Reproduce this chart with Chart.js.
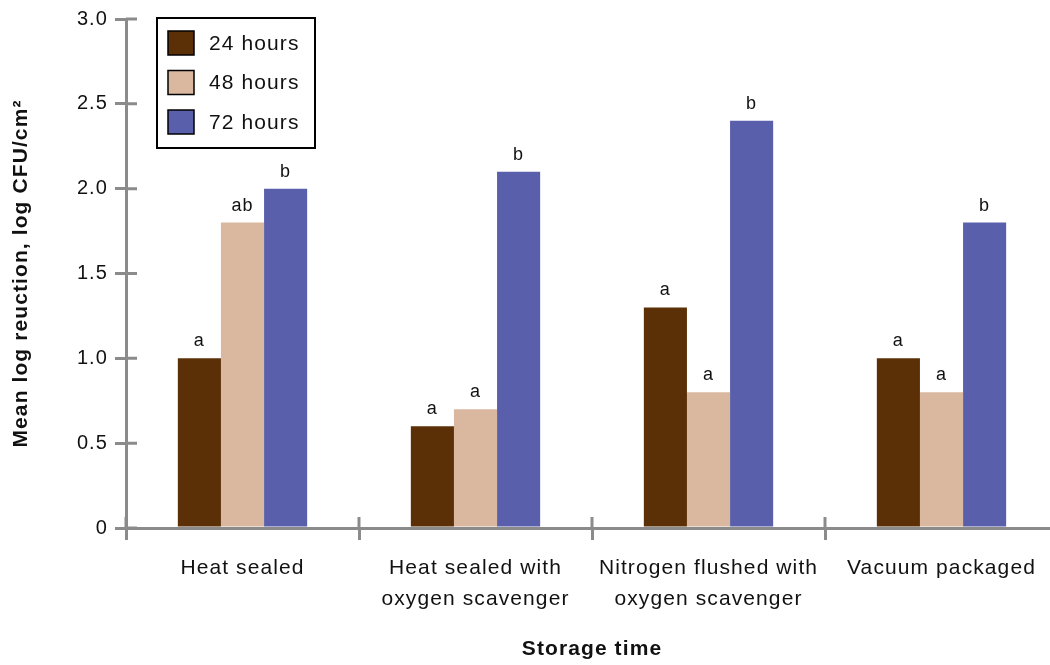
<!DOCTYPE html>
<html>
<head>
<meta charset="utf-8">
<script src="https://cdn.jsdelivr.net/npm/chart.js@4/dist/chart.umd.min.js"></script>
<style>
html, body { margin: 0; padding: 0; background: #fff; overflow: hidden; }
#wrap { width: 1060px; height: 665px; }
</style>
</head>
<body>
<div id="wrap"><canvas id="chart"></canvas></div>
<script>
"use strict";
const categories = [["Heat sealed"], ["Heat sealed with", "oxygen scavenger"], ["Nitrogen flushed with", "oxygen scavenger"], ["Vacuum packaged"]];
const seriesNames = ["24 hours", "48 hours", "72 hours"];
const values24 = [1.0, 0.6, 1.3, 1.0];
const values48 = [1.8, 0.7, 0.8, 0.8];
const values72 = [2.0, 2.1, 2.4, 1.8];
const letters24 = ["a", "a", "a", "a"];
const letters48 = ["ab", "a", "a", "a"];
const letters72 = ["b", "b", "b", "b"];
const yTicks = [0, 0.5, 1.0, 1.5, 2.0, 2.5, 3.0];

const colors = ["#5c3007", "#d9b89f", "#5a5fab"];
const axisGray = "#8b8b8b";
const textColor = "#111";
const family = "'Liberation Sans', Arial, sans-serif";
const spacing = "1.1px";

// the original font is wider than Arial, so open up the tracking a little
const tracking = {
    id: 'tracking',
    beforeUpdate(chart) { chart.ctx.letterSpacing = spacing; },
    beforeDraw(chart) { chart.ctx.letterSpacing = spacing; }
};

// ticks on the inner side of both axes (chart.js only draws the outer half)
const innerTicks = {
    id: 'innerTicks',
    beforeDatasetsDraw(chart) {
        const { ctx, chartArea, scales: { x, y } } = chart;
        ctx.save();
        ctx.strokeStyle = axisGray;
        ctx.lineWidth = 3;
        ctx.beginPath();
        yTicks.forEach(v => {
            const py = y.getPixelForValue(v);
            ctx.moveTo(chartArea.left, py);
            ctx.lineTo(chartArea.left + 11, py);
        });
        for (let i = 0; i <= categories.length; i++) {
            const px = x.getPixelForValue(i - 0.5);
            ctx.moveTo(px, chartArea.bottom);
            ctx.lineTo(px, chartArea.bottom - 11);
        }
        ctx.stroke();
        ctx.restore();
    }
};

// significance letters above each bar
const barLetters = {
    id: 'barLetters',
    afterDatasetsDraw(chart) {
        const ctx = chart.ctx;
        const letterSets = [letters24, letters48, letters72];
        ctx.save();
        ctx.fillStyle = textColor;
        ctx.font = "18px " + family;
        ctx.textAlign = 'center';
        ctx.textBaseline = 'alphabetic';
        chart.data.datasets.forEach((ds, i) => {
            chart.getDatasetMeta(i).data.forEach((bar, j) => {
                ctx.fillText(letterSets[i][j], bar.x, bar.y - 12);
            });
        });
        ctx.restore();
    }
};

// boxed legend in the upper left of the plot
const boxLegend = {
    id: 'boxLegend',
    afterDraw(chart) {
        const { ctx, chartArea } = chart;
        const left = chartArea.left + 31;
        const top = chartArea.top - 1;
        ctx.save();
        ctx.fillStyle = '#fff';
        ctx.fillRect(left, top, 158, 130);
        ctx.strokeStyle = '#000';
        ctx.lineWidth = 2;
        ctx.strokeRect(left, top, 158, 130);
        ctx.font = "21px " + family;
        ctx.textBaseline = 'middle';
        chart.data.datasets.forEach((ds, i) => {
            const sy = top + 13 + i * 39.5;
            ctx.fillStyle = ds.backgroundColor;
            ctx.fillRect(left + 11, sy, 26, 24);
            ctx.lineWidth = 1.5;
            ctx.strokeRect(left + 11, sy, 26, 24);
            ctx.fillStyle = textColor;
            ctx.fillText(ds.label, left + 52, sy + 13);
        });
        ctx.restore();
    }
};

const ctx = document.getElementById('chart').getContext('2d');
new Chart(ctx, {
    type: 'bar',
    data: {
        labels: categories,
        datasets: [
            { label: seriesNames[0], data: values24, backgroundColor: colors[0] },
            { label: seriesNames[1], data: values48, backgroundColor: colors[1] },
            { label: seriesNames[2], data: values72, backgroundColor: colors[2] }
        ]
    },
    options: {
        responsive: true,
        maintainAspectRatio: false,
        animation: false,
        layout: { padding: { top: 18, right: 2, left: 0, bottom: 0 } },
        datasets: { bar: { categoryPercentage: 0.555, barPercentage: 1.0 } },
        plugins: {
            legend: { display: false },
            tooltip: { enabled: false }
        },
        scales: {
            x: {
                grid: { drawOnChartArea: false, tickLength: 12, color: axisGray, lineWidth: 3, offset: true },
                border: { color: axisGray, width: 3 },
                ticks: { color: textColor, font: { family: family, size: 21, lineHeight: 1.5 }, padding: 12, maxRotation: 0, autoSkip: false },
                title: {
                    display: true,
                    text: 'Storage time',
                    color: textColor,
                    font: { family: family, size: 21, weight: 'bold' },
                    padding: { top: 0, bottom: 3 }
                },
                afterFit(scale) { scale.height = 137; }
            },
            y: {
                min: 0,
                max: 3,
                afterBuildTicks(scale) { scale.ticks = yTicks.map(v => ({ value: v })); },
                grid: { drawOnChartArea: false, tickLength: 11, color: axisGray, lineWidth: 3 },
                border: { color: axisGray, width: 3 },
                ticks: {
                    color: textColor,
                    font: { family: family, size: 20 },
                    padding: 7,
                    callback: v => v === 0 ? '0' : v.toFixed(1)
                },
                title: {
                    display: true,
                    text: 'Mean log reuction, log CFU/cm²',
                    color: textColor,
                    font: { family: family, size: 21, weight: 'bold' },
                    padding: { top: 9, bottom: 0 }
                },
                afterFit(scale) { scale.width = 126; }
            }
        }
    },
    plugins: [tracking, innerTicks, barLetters, boxLegend]
});
</script>
</body>
</html>
